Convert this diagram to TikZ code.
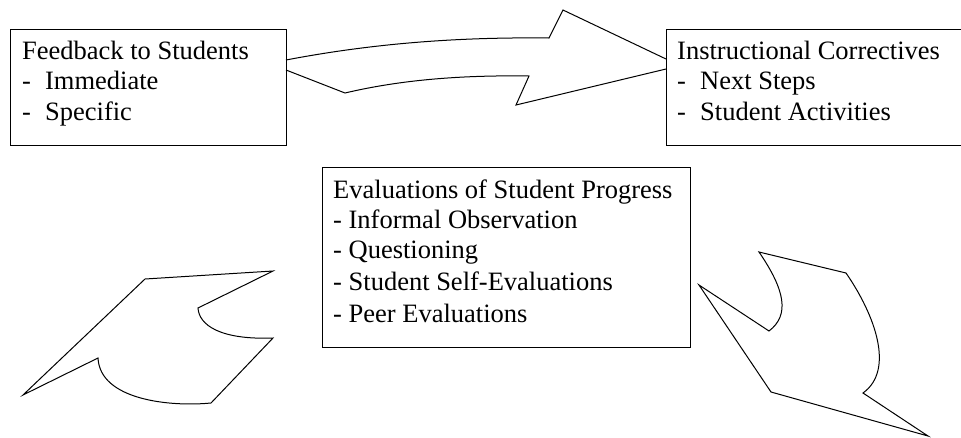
\documentclass[tikz,border=0pt]{standalone}
\usepackage{fontspec}
\setmainfont{Liberation Serif}
\begin{document}
\begin{tikzpicture}[x=1pt,y=-1pt,
  box/.style={draw=black, line width=1.3pt, rectangle, inner sep=0pt, anchor=north west},
  txt/.style={anchor=base west, inner sep=0pt, font=\fontsize{26.5}{31}\selectfont},
  blockarrow/.style={draw=black, line width=1pt, line join=miter, fill=white}]
\useasboundingbox (0,0) rectangle (961,437);
% boxes
\node[box, minimum width=276pt, minimum height=116pt] (fb) at (10,29) {};
\node[box, minimum width=300pt, minimum height=116pt] (ic) at (666,29) {};
\node[box, minimum width=368pt, minimum height=180pt] (ev) at (322,167) {};
% texts
\node[txt] (fb1) at (22,59.3) {Feedback to Students};
\node[txt] (fb2) at (22,89.5) {\makebox[23pt][l]{-}Immediate};
\node[txt] (fb3) at (22,120) {\makebox[23pt][l]{-}Specific};
\node[txt] (ic1) at (677,59.3) {Instructional Correctives};
\node[txt] (ic2) at (677,89.5) {\makebox[23pt][l]{-}Next Steps};
\node[txt] (ic3) at (677,120) {\makebox[23pt][l]{-}Student Activities};
\node[txt] (ev1) at (333,198) {Evaluations of Student Progress};
\node[txt] (ev2) at (333,228) {- Informal Observation};
\node[txt] (ev3) at (333,258) {- Questioning};
\node[txt] (ev4) at (333,290) {- Student Self-Evaluations};
\node[txt] (ev5) at (333,322) {- Peer Evaluations};
% top block arrow
\draw[blockarrow, fill=none] (286,60) .. controls (375,43) and (460,37) .. (549,38)
  -- (563,10) -- (666,59);
\draw[blockarrow, fill=none] (666,69) -- (516,105) -- (529,76)
  .. controls (460,75) and (400,80) .. (345,93) -- (286,70);
% bottom-left block arrow
\draw[blockarrow] (145,279) -- (273,271) -- (198,308)
  .. controls (199,325) and (220,340) .. (273,338)
  -- (211,403) .. controls (170,407) and (100,400) .. (98,358)
  -- (23,395) -- cycle;
% bottom-right block arrow
\draw[blockarrow] (759,252) -- (846,273)
  .. controls (875,315) and (895,370) .. (863,393)
  -- (928,436) -- (771,392) -- (699,285) -- (769,331)
  .. controls (790,315) and (785,290) .. (759,252) -- cycle;
\end{tikzpicture}
\end{document}
